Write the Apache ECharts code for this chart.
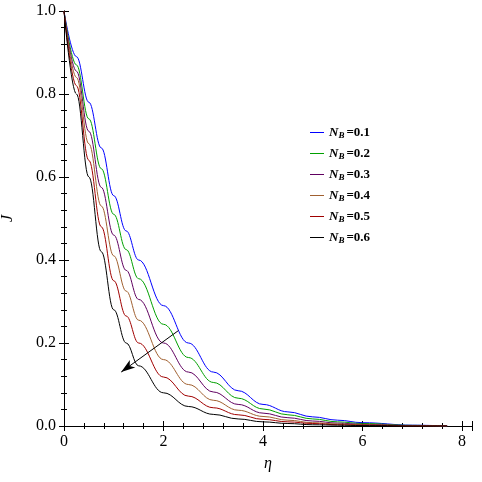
<!DOCTYPE html><html><head><meta charset="utf-8"><script src="https://cdn.jsdelivr.net/npm/echarts@6/dist/echarts.min.js"></script></head><body style="margin:0"><div id="c" style="width:482px;height:482px"></div><script>
var eta=[0,0.25,0.5,0.75,1,1.25,1.5,2,2.5,3,3.5,4,4.5,5,5.5,6,7,7.7];
var names=['0.1','0.2','0.3','0.4','0.5','0.6'];
var colors=['#0000ff','#00a000','#600060','#a06030','#a00000','#000000'];
var J01=[1,0.89,0.78,0.67,0.555,0.47,0.40,0.29,0.20,0.13,0.085,0.052,0.034,0.022,0.014,0.008,0.002,0];
var J02=[1,0.87,0.74,0.62,0.51,0.425,0.355,0.245,0.165,0.105,0.067,0.041,0.027,0.017,0.01,0.006,0.0015,0];
var J03=[1,0.855,0.71,0.575,0.46,0.375,0.305,0.20,0.13,0.082,0.052,0.031,0.02,0.012,0.007,0.004,0.001,0];
var J04=[1,0.84,0.68,0.53,0.41,0.325,0.255,0.16,0.10,0.062,0.038,0.023,0.014,0.008,0.005,0.003,0.001,0];
var J05=[1,0.82,0.64,0.48,0.35,0.265,0.20,0.118,0.072,0.044,0.027,0.016,0.01,0.006,0.003,0.002,0,0];
var J06=[1,0.80,0.60,0.42,0.28,0.20,0.145,0.08,0.047,0.028,0.017,0.01,0.006,0.003,0.002,0.001,0,0];
var all=[J01,J02,J03,J04,J05,J06];
var series=all.map(function(d,i){return {name:names[i],type:'line',smooth:0.4,smoothMonotone:'x',showSymbol:false,symbol:'none',lineStyle:{width:1,color:colors[i]},itemStyle:{color:colors[i]},data:eta.map(function(x,k){return [x,d[k]];})};});
series[5].markLine={silent:true,symbol:['none','arrow'],symbolSize:[7,14],lineStyle:{color:'#000',width:1,type:'solid'},label:{show:false},data:[[{coord:[2.3,0.23]},{coord:[1.15,0.13]}]]};
var ax={axisLine:{lineStyle:{color:'#000'}},axisTick:{inside:true,length:5,lineStyle:{color:'#000'}},minorTick:{show:true,splitNumber:5,length:3,lineStyle:{color:'#000'}},splitLine:{show:false}};
var lab={color:'#000',fontFamily:'Liberation Serif',fontSize:16};
var ch=echarts.init(document.getElementById('c'));
ch.setOption({animation:false,
grid:{left:64,right:10,top:11,bottom:56,containLabel:false,outerBoundsMode:'none'},
legend:{orient:'vertical',left:305,top:121,itemGap:7,itemWidth:14,itemHeight:1,icon:'rect',data:names,
 formatter:function(n){return '{i|N}{s|B}{b|='+n+'}';},
 textStyle:{rich:{i:{fontFamily:'Liberation Serif',fontStyle:'italic',fontWeight:'bold',fontSize:13,color:'#000'},s:{fontFamily:'Liberation Serif',fontStyle:'italic',fontWeight:'bold',fontSize:9,color:'#000',verticalAlign:'bottom',padding:[6,2,0,0]},b:{fontFamily:'Liberation Serif',fontWeight:'bold',fontSize:13,color:'#000'}}}},
xAxis:[Object.assign({type:'value',min:0,max:8.2,interval:2,axisLabel:Object.assign({formatter:function(v){return v>8?'':v;}},lab),name:'η',nameLocation:'middle',nameGap:30,nameTextStyle:Object.assign({fontStyle:'italic'},lab)},ax),
 Object.assign({type:'value',position:'top',min:0,max:8.2,interval:2,axisLabel:{show:false}},ax)],
yAxis:[Object.assign({type:'value',min:0,max:1,interval:0.2,axisLabel:Object.assign({formatter:function(v){return v.toFixed(1);}},lab),name:'J',nameLocation:'middle',nameGap:48,nameRotate:90,nameTextStyle:Object.assign({fontStyle:'italic'},lab)},ax),
 Object.assign({type:'value',position:'right',min:0,max:1,interval:0.2,axisLabel:{show:false}},ax)],
series:series});
</script></body></html>
